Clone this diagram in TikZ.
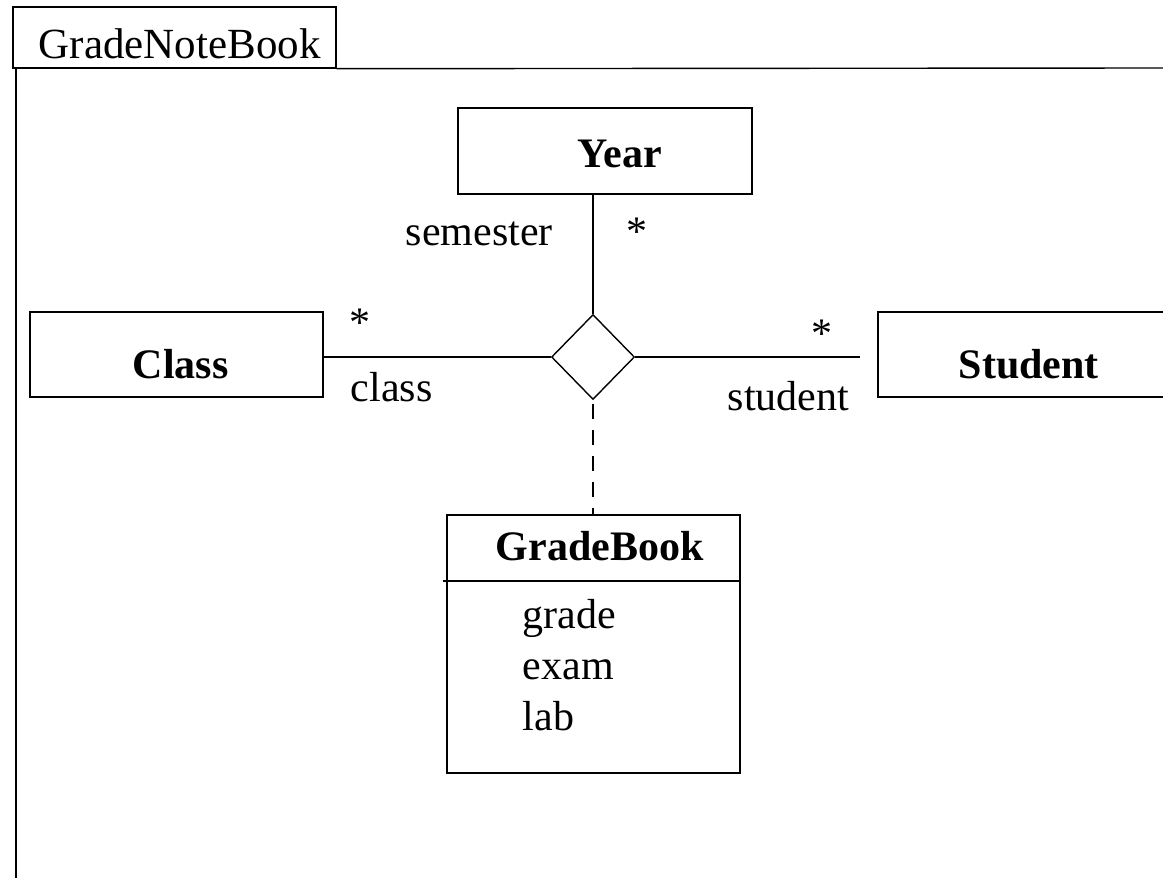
\documentclass[tikz,border=0pt]{standalone}
\usepackage{fontspec}
\setmainfont{Liberation Serif}
\usetikzlibrary{shapes.geometric}
\begin{document}
\begin{tikzpicture}[x=1pt,y=-1pt,
  line width=1.4pt,
  box/.style={draw, rectangle, inner sep=0pt},
  lbl/.style={inner sep=0pt, anchor=base west, font=\fontsize{42}{50}\selectfont},
  cname/.style={inner sep=0pt, anchor=base west, font=\fontsize{42}{50}\selectfont\bfseries},
  mult/.style={inner sep=0pt, anchor=base, font=\fontsize{42}{50}\selectfont},
  assoc/.style={draw, diamond, inner sep=0pt, minimum width=83pt, minimum height=85pt},
  linkline/.style={line width=2pt, dash pattern=on 15pt off 11pt},
]
\clip (0,0) rectangle (1163,878);
\fill[white] (0,0) rectangle (1163,878);

% package frame with its name tab
\node[box, minimum width=323pt, minimum height=61pt] (tab) at (174.5,37.5) {};
\node[lbl, font=\fontsize{43}{50}\selectfont] (pkgname) at (38,58) {GradeNoteBook};
\coordinate (frameleft) at (16,68);
\coordinate (framebottom) at (16,878);
\coordinate (frameright) at (1163,68);
\draw (frameleft) -- (framebottom);
\draw (tab.south east) -- (frameright);

% classes
\node[box, minimum width=294pt, minimum height=86pt] (year) at (605,151) {};
\node[cname] (yearname) at (577,167) {Year};

\node[box, minimum width=293pt, minimum height=85pt] (class) at (176.5,354.5) {};
\node[cname] (classname) at (132,378) {Class};

\node[box, minimum width=312pt, minimum height=85pt] (student) at (1034,354.5) {};
\node[cname] (studentname) at (958,378) {Student};

% association class
\node[box, minimum width=293pt, minimum height=258pt] (gb) at (593.5,644) {};
\node[cname] (gbname) at (495,560) {GradeBook};
\coordinate (sepstart) at (443,581);
\draw (sepstart) -- (gb.east |- sepstart);
\node[lbl] (agrade) at (522,628) {grade};
\node[lbl] (aexam) at (522,679) {exam};
\node[lbl] (alab) at (522,730) {lab};

% ternary association
\node[assoc] (dia) at (593,357) {};
\coordinate (studentend) at (860,357);
\draw (dia.north |- year.south) -- (dia.north);
\draw (class.east |- dia.west) -- (dia.west);
\draw (dia.east) -- (studentend);
\draw[linkline] ([yshift=-4pt]dia.south) -- (dia.south |- gb.north);

% role names and multiplicities
\node[lbl] (rsem) at (405,245) {semester};
\node[mult] (msem) at (637,245) {*};
\node[mult] (mclass) at (360,336) {*};
\node[lbl] (rclass) at (350,401) {class};
\node[mult] (mstudent) at (822,347) {*};
\node[lbl] (rstudent) at (727,410) {student};
\end{tikzpicture}
\end{document}
